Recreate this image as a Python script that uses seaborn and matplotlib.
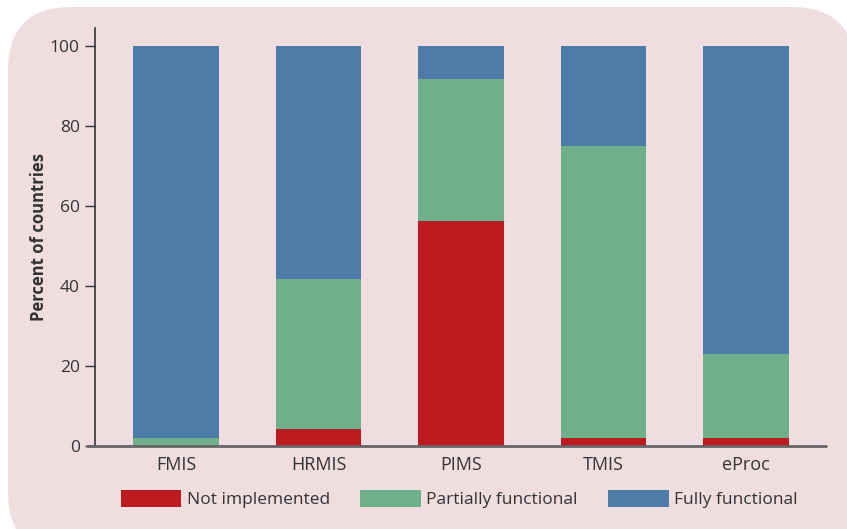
import numpy as np
import pandas as pd
import matplotlib
matplotlib.use("Agg")
import matplotlib.pyplot as plt
from matplotlib.patches import FancyBboxPatch, Patch
from matplotlib.lines import Line2D
import seaborn as sns

systems = ["FMIS", "HRMIS", "PIMS", "TMIS", "eProc"]
not_implemented = [0.0, 4.2, 56.3, 2.1, 2.1]
partially_functional = [2.1, 37.5, 35.4, 72.9, 20.8]
fully_functional = [97.9, 58.3, 8.3, 25.0, 77.1]
series_names = ["Not implemented", "Partially functional", "Fully functional"]
yticks = [0, 20, 40, 60, 80, 100]

red, green, blue = "#BE1B20", "#6DB08A", "#4E7CA8"
bg = "#EFDDE0"
txt = "#333333"

sns.set_style("white")
plt.rcParams["font.family"] = ["Open Sans", "DejaVu Sans"]

df = pd.DataFrame({
    "system": systems,
    "ni": not_implemented,
    "pf": partially_functional,
    "ff": fully_functional,
})
df["c1"] = df["ni"]
df["c2"] = df["ni"] + df["pf"]
df["c3"] = df["c2"] + df["ff"]

fig = plt.figure(figsize=(8.47, 5.29), dpi=100)
fig.patch.set_facecolor("white")
bgpatch = FancyBboxPatch((8 / 847, -0.05), 1.0, 1 - 7 / 529 + 0.05,
                         boxstyle="round,pad=0,rounding_size=0.075",
                         transform=fig.transFigure, facecolor=bg,
                         edgecolor="none", zorder=-10,
                         mutation_aspect=847 / 529)
fig.patches.append(bgpatch)

ax = fig.add_axes([95 / 847, 1 - 446 / 529, (826 - 95) / 847, (446 - 28) / 529])
ax.set_facecolor("none")

for col, c in (("c3", blue), ("c2", green), ("c1", red)):
    sns.barplot(data=df, x="system", y=col, color=c, width=0.6, ax=ax,
                saturation=1, errorbar=None, linewidth=0, edgecolor="none")

ax.set_xlim(-0.57, 4.56)
ax.set_ylim(0, 104.5)
ax.set_yticks(yticks)
ax.set_yticklabels([str(t) for t in yticks])
ax.set_xlabel("")
ax.set_ylabel("Percent of countries", fontsize=12, fontweight="bold",
              color=txt, labelpad=1)

for s in ["top", "right", "bottom"]:
    ax.spines[s].set_visible(False)
ax.spines["left"].set_color("#333333")
ax.spines["left"].set_linewidth(1.2)

ax.tick_params(axis="y", which="both", left=True, length=7, width=1,
               color="#333333", labelsize=12.5, labelcolor=txt, pad=4)
ax.tick_params(axis="x", bottom=False, labelsize=13, labelcolor=txt, pad=4)

ax.add_line(Line2D([-0.011, 1.0], [0, 0], transform=ax.transAxes,
                   color="#666666", linewidth=2, clip_on=False, zorder=5))

handles = [Patch(facecolor=c, edgecolor="none") for c in (red, green, blue)]
fig.legend(handles, series_names, loc="center", bbox_to_anchor=(0.542, 1 - 499 / 529),
           ncol=3, frameon=False, fontsize=12.5, handlelength=3.5,
           handleheight=1.1, handletextpad=0.3, columnspacing=1.75,
           labelcolor=txt)

fig.savefig("out.png", dpi=100, facecolor=fig.get_facecolor())
